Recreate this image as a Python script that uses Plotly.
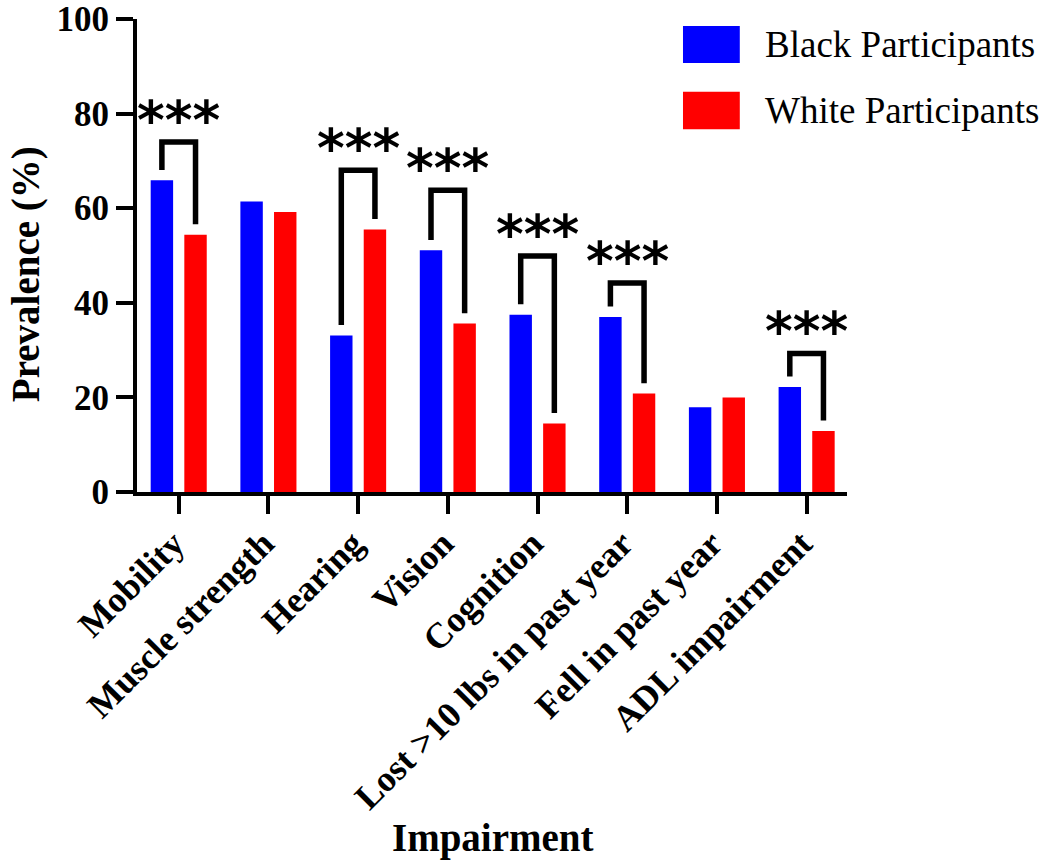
import plotly.graph_objects as go

categories = ["Mobility", "Muscle strength", "Hearing", "Vision", "Cognition",
              "Lost >10 lbs in past year", "Fell in past year", "ADL impairment"]
black_values = [65.9, 61.4, 33.1, 51.1, 37.5, 37.0, 17.9, 22.2]
white_values = [54.4, 59.2, 55.5, 35.6, 14.5, 20.8, 20.0, 12.9]
# significance brackets: category index -> bracket top (%)
sig_index = [0, 2, 3, 4, 5, 7]
sig_top = [74.0, 68.0, 63.8, 49.9, 44.2, 29.3]
sig_label = "***"
y_ticks = [0, 20, 40, 60, 80, 100]

FONT = "Liberation Serif, Times New Roman, serif"
STAR_FONT = "DejaVu Sans, Arial, sans-serif"
BLUE = "#0000FF"
RED = "#FF0000"

BARGAP = 0.25
BARGROUPGAP = 1 / 3
half_slot = (1 - BARGAP) / 4  # centre offset of each bar in a group

fig = go.Figure()
xs = list(range(len(categories)))
fig.add_trace(go.Bar(x=xs, y=black_values, name="Black Participants",
                     marker=dict(color=BLUE, line=dict(width=0))))
fig.add_trace(go.Bar(x=xs, y=white_values, name="White Participants",
                     marker=dict(color=RED, line=dict(width=0))))

# significance brackets
for i, top in zip(sig_index, sig_top):
    xl = i - half_slot
    xr = i + half_slot
    yl = black_values[i] + 2.2
    yr = white_values[i] + 2.2
    fig.add_trace(go.Scatter(x=[xl, xl, xr, xr], y=[yl, top, top, yr],
                             mode="lines", line=dict(color="black", width=5.5),
                             hoverinfo="skip", showlegend=False))
    fig.add_annotation(x=i, y=top, text="<b>%s</b>" % sig_label, showarrow=False,
                       xref="x", yref="y", yanchor="bottom", yshift=-11,
                       font=dict(family=STAR_FONT, size=53, color="black"))

# manual legend
legend_items = [("Black Participants", BLUE, 0.985, 0.907),
                ("White Participants", RED, 0.846, 0.767)]
for label, color, y1, y0 in legend_items:
    fig.add_shape(type="rect", xref="paper", yref="paper",
                  x0=0.769, x1=0.849, y0=y0, y1=y1,
                  fillcolor=color, line=dict(width=0))
    fig.add_annotation(xref="paper", yref="paper", x=0.882, y=(y0 + y1) / 2,
                       xanchor="left", yanchor="middle", showarrow=False,
                       text=label, font=dict(family=FONT, size=37, color="black"))

# axis titles
fig.add_annotation(xref="paper", yref="paper", x=0.5, y=-0.731,
                   text="<b>Impairment</b>", showarrow=False,
                   xanchor="center", yanchor="middle",
                   font=dict(family=FONT, size=39, color="black"))
fig.add_annotation(xref="paper", yref="paper", x=-0.156, y=0.461,
                   text="<b>Prevalence (%)</b>", showarrow=False, textangle=-90,
                   xanchor="center", yanchor="middle",
                   font=dict(family=FONT, size=39, color="black"))

fig.update_layout(
    width=1050, height=865,
    margin=dict(l=137, r=203, t=19, b=373, autoexpand=False),
    paper_bgcolor="white", plot_bgcolor="white",
    barmode="group", bargap=BARGAP, bargroupgap=BARGROUPGAP,
    showlegend=False,
    font=dict(family=FONT, color="black"),
)
fig.update_xaxes(
    range=[-0.465, 7.45], tickmode="array", tickvals=xs,
    ticktext=["<b>%s</b>" % c for c in categories], tickangle=-45,
    tickfont=dict(family=FONT, size=36, color="black"),
    showline=True, linecolor="black", linewidth=4,
    ticks="outside", ticklen=18, tickwidth=4, tickcolor="black",
    showgrid=False, zeroline=False, automargin=False,
    ticklabeloverflow="allow", ticklabelstandoff=-6, ticklabelshift=-5,
)
fig.update_yaxes(
    range=[0, 100], tickmode="array", tickvals=y_ticks,
    ticktext=["<b>%d</b>" % v for v in y_ticks],
    tickfont=dict(family=FONT, size=35, color="black"),
    showline=True, linecolor="black", linewidth=4,
    ticks="outside", ticklen=17, tickwidth=4, tickcolor="black",
    showgrid=False, zeroline=False, automargin=False,
    ticklabeloverflow="allow",
)

fig.write_html("out.html", config={"displayModeBar": False},
               post_script="document.body.style.margin='0';")
